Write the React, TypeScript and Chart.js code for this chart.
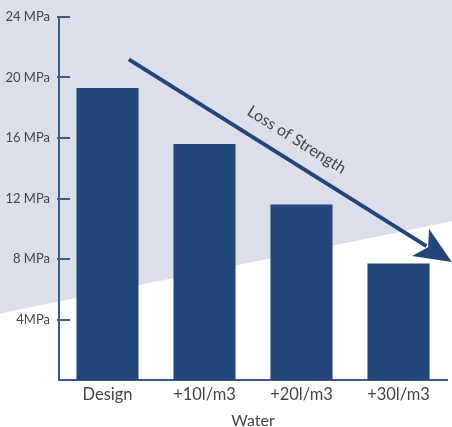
import { useEffect, useRef } from "react";
import { Chart, registerables } from "chart.js";

Chart.register(...registerables);

const categories = ["Design", "+10l/m3", "+20l/m3", "+30l/m3"];
const strengthValues = [19.3, 15.6, 11.6, 7.7];
const yTickValues = [4, 8, 12, 16, 20, 24];
const yTickLabels = ["4MPa", "8 MPa", "12 MPa", "16 MPa", "20 MPa", "24 MPa"];
const xAxisTitle = "Water";
const arrowLabel = "Loss of Strength";
// arrow endpoints in data space: [category index, MPa]
const arrowStart = [0.22, 21.2];
const arrowEnd = [3.55, 7.8];
// background diagonal: MPa level at left and right canvas edges
const bgDiagonal = [4.4, 10.5];

const BAR = "#22467A";
const AXIS = "#3A5A8C";
const LAVENDER = "#DCDEEA";
const TEXT = "#454545";
const FONT = "Lato";

const decorPlugin = {
  id: "decor",
  beforeDraw(chart: any) {
    const { ctx, width, height } = chart;
    const y = chart.scales.y;
    ctx.save();
    ctx.fillStyle = LAVENDER;
    ctx.fillRect(0, 0, width, height);
    ctx.fillStyle = "#ffffff";
    ctx.beginPath();
    ctx.moveTo(0, y.getPixelForValue(bgDiagonal[0]));
    ctx.lineTo(width, y.getPixelForValue(bgDiagonal[1]));
    ctx.lineTo(width, height);
    ctx.lineTo(0, height);
    ctx.closePath();
    ctx.fill();
    ctx.restore();
  },
  afterDraw(chart: any) {
    const { ctx } = chart;
    const x = chart.scales.x;
    const y = chart.scales.y;
    ctx.save();
    // inward tick marks
    ctx.strokeStyle = AXIS;
    ctx.lineWidth = 2;
    const ax = chart.chartArea.left;
    yTickValues.forEach((v) => {
      const py = Math.round(y.getPixelForValue(v));
      ctx.beginPath();
      ctx.moveTo(ax - 2, py);
      ctx.lineTo(ax + 11, py);
      ctx.stroke();
    });
    // arrow
    const sx = x.getPixelForValue(arrowStart[0]);
    const sy = y.getPixelForValue(arrowStart[1]);
    const ex = x.getPixelForValue(arrowEnd[0]);
    const ey = y.getPixelForValue(arrowEnd[1]);
    const dx = ex - sx;
    const dy = ey - sy;
    const len = Math.hypot(dx, dy);
    const ux = dx / len;
    const uy = dy / len;
    const nx = -uy;
    const ny = ux;
    const headLen = 37;
    const headHalf = 16;
    const notch = 28;
    ctx.strokeStyle = BAR;
    ctx.fillStyle = BAR;
    ctx.lineWidth = 4;
    ctx.lineCap = "butt";
    ctx.beginPath();
    ctx.moveTo(sx, sy);
    ctx.lineTo(ex - ux * (notch + 2), ey - uy * (notch + 2));
    ctx.stroke();
    ctx.beginPath();
    ctx.moveTo(ex, ey);
    ctx.lineTo(ex - ux * headLen + nx * headHalf, ey - uy * headLen + ny * headHalf);
    ctx.lineTo(ex - ux * notch, ey - uy * notch);
    ctx.lineTo(ex - ux * headLen - nx * headHalf, ey - uy * headLen - ny * headHalf);
    ctx.closePath();
    ctx.fill();
    // label
    const along = 185;
    const off = -21;
    const tx = sx + ux * along + nx * off;
    const ty = sy + uy * along + ny * off;
    ctx.translate(tx, ty);
    ctx.rotate(Math.atan2(dy, dx));
    ctx.fillStyle = TEXT;
    ctx.font = `16px ${FONT}`;
    ctx.textAlign = "center";
    ctx.textBaseline = "middle";
    ctx.fillText(arrowLabel, 0, 0);
    ctx.restore();
  },
};

export default function App() {
  const ref = useRef<HTMLCanvasElement | null>(null);
  useEffect(() => {
    document.body.style.margin = "0";
    const canvas = ref.current;
    if (!canvas) return;
    const chart = new Chart(canvas, {
      type: "bar",
      data: {
        labels: categories,
        datasets: [
          {
            data: strengthValues,
            backgroundColor: BAR,
            borderWidth: 0,
            barPercentage: 0.64,
            categoryPercentage: 1,
          },
        ],
      },
      options: {
        responsive: false,
        animation: false,
        layout: { padding: { top: 17, right: 5, left: 0, bottom: 0 } },
        plugins: {
          legend: { display: false },
          tooltip: { enabled: false },
        },
        scales: {
          x: {
            grid: { display: false },
            border: { display: true, color: AXIS, width: 2 },
            ticks: {
              color: TEXT,
              font: { family: FONT, size: 16.5 },
              padding: -3,
              maxRotation: 0,
            },
            title: {
              display: true,
              text: xAxisTitle,
              color: TEXT,
              font: { family: FONT, size: 16 },
              padding: { top: 0, bottom: -3 },
            },
            afterFit: (s: any) => {
              s.height = 47;
            },
          },
          y: {
            min: 0,
            max: 24,
            grid: { display: false },
            border: { display: true, color: AXIS, width: 2 },
            ticks: {
              stepSize: 4,
              color: TEXT,
              font: { family: FONT, size: 13 },
              padding: 1,
              callback: (value: any) => {
                const i = yTickValues.indexOf(Number(value));
                return i >= 0 ? yTickLabels[i] : "";
              },
            },
            afterFit: (s: any) => {
              s.width = 59;
            },
          },
        },
      },
      plugins: [decorPlugin],
    });
    return () => chart.destroy();
  }, []);
  return (
    <canvas
      ref={ref}
      width={452}
      height={427}
      style={{ display: "block", width: 452, height: 427 }}
    />
  );
}
